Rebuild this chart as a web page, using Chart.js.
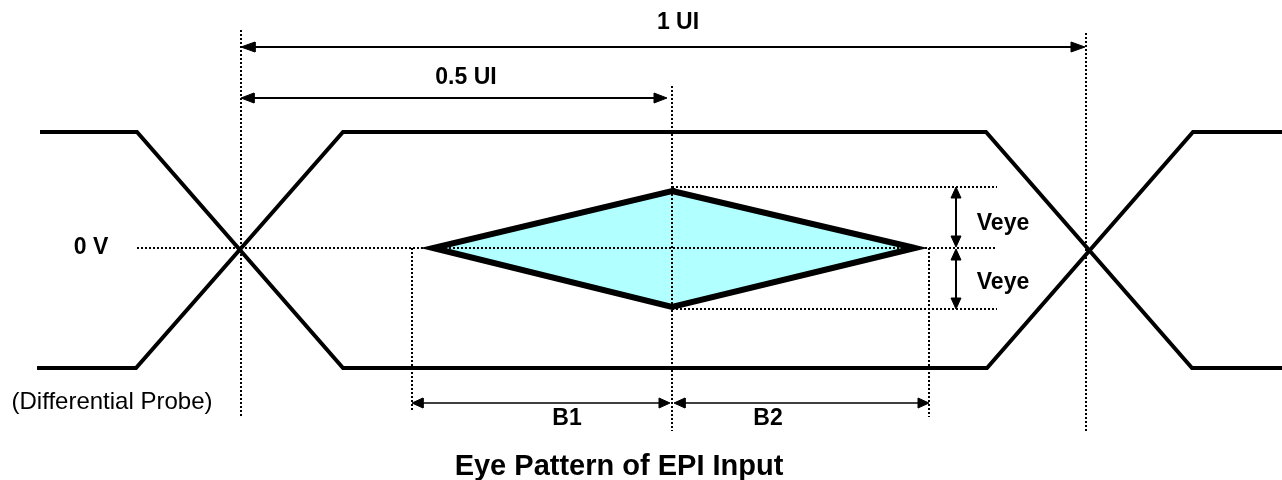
<!DOCTYPE html>
<html>
<head>
<meta charset="utf-8">
<script src="https://cdn.jsdelivr.net/npm/chart.js@4"></script>
<style>
  html, body { margin: 0; padding: 0; background: #fff; }
  #wrap { width: 1282px; height: 480px; position: relative; }
</style>
</head>
<body>
<div id="wrap"><canvas id="myChart"></canvas></div>
<script>
// diagram coordinates (x to the right, y downwards)
const waveAX = [40, 137, 343, 987, 1193, 1282];
const waveAY = [132, 132, 368, 368, 132, 132];
const waveBX = [37, 136, 343, 986, 1192, 1282];
const waveBY = [368, 368, 132, 132, 368, 368];

// eye outline, walked round once plus one side so every tip gets a mitred join
const eyeX = [672, 915, 672, 433, 672, 915];
const eyeY = [191, 248, 307, 248, 191, 248];

// dotted guides: [x1, y1, x2, y2]
const guides = [
  [241, 30, 241, 417],
  [672, 86, 672, 431],
  [1086, 33, 1086, 431],
  [412, 248, 412, 410],
  [929, 248, 929, 417],
  [137, 248, 997, 248],
  [672, 187, 997, 187],
  [672, 309, 997, 309]
];

// double arrows: [x1, y1, x2, y2, headLen, headHalf, width]
const arrows = [
  [241, 47, 1085, 47, 14, 5, 2],
  [241, 98, 667, 98, 13, 5, 2],
  [412, 403, 670, 403, 11, 5, 1.5],
  [674, 403, 929, 403, 11, 5, 1.5],
  [956, 187, 956, 247, 11, 5, 2],
  [956, 249, 956, 309, 11, 5, 2]
];

const labels = ['1 UI', '0.5 UI', '0 V', 'Veye', 'Veye', 'B1', 'B2'];
const labelX = [678, 466, 91, 1003, 1003, 567, 768];
const labelY = [23, 78, 248, 224, 283, 419, 419];

const probeText = '(Differential Probe)';
const titleText = 'Eye Pattern of EPI Input';

const pts = (xs, ys) => xs.map((x, i) => ({ x, y: ys[i] }));

const datasets = [];

datasets.push({
  data: pts(eyeX, eyeY),
  borderColor: '#000',
  borderWidth: 6,
  backgroundColor: 'rgb(178, 255, 255)',
  fill: 'shape',
  order: 4
});

[[waveAX, waveAY], [waveBX, waveBY]].forEach(([xs, ys]) => {
  datasets.push({
    data: pts(xs, ys),
    borderColor: '#000',
    borderWidth: 4,
    fill: false,
    order: 3
  });
});

guides.forEach(g => {
  datasets.push({
    data: [{ x: g[0], y: g[1] }, { x: g[2], y: g[3] }],
    borderColor: '#000',
    borderWidth: 2,
    borderDash: [2, 2],
    fill: false,
    order: 2
  });
});

function head(tx, ty, dx, dy, len, half) {
  const bx = tx - dx * len, by = ty - dy * len;
  return [
    { x: tx, y: ty },
    { x: bx - dy * half, y: by + dx * half },
    { x: bx + dy * half, y: by - dx * half },
    { x: tx, y: ty }
  ];
}

arrows.forEach(a => {
  const [x1, y1, x2, y2, len, half, w] = a;
  const L = Math.hypot(x2 - x1, y2 - y1);
  const dx = (x2 - x1) / L, dy = (y2 - y1) / L;
  datasets.push({
    data: [{ x: x1 + dx * len * 0.8, y: y1 + dy * len * 0.8 }, { x: x2 - dx * len * 0.8, y: y2 - dy * len * 0.8 }],
    borderColor: '#000',
    borderWidth: w,
    fill: false,
    order: 1
  });
  [head(x2, y2, dx, dy, len, half), head(x1, y1, -dx, -dy, len, half)].forEach(h => {
    datasets.push({
      data: h,
      borderColor: '#000',
      borderWidth: 1,
      backgroundColor: '#000',
      fill: 'shape',
      order: 0
    });
  });
});

const textPlugin = {
  id: 'diagramText',
  afterDatasetsDraw(chart) {
    const { ctx, scales: { x, y } } = chart;
    ctx.save();
    ctx.fillStyle = '#000';
    ctx.textAlign = 'center';
    ctx.textBaseline = 'middle';
    ctx.font = 'bold 23px "Liberation Sans", Arial, sans-serif';
    labels.forEach((t, i) => {
      ctx.fillText(t, x.getPixelForValue(labelX[i]), y.getPixelForValue(labelY[i]));
    });
    ctx.font = '24px "Liberation Sans", Arial, sans-serif';
    ctx.fillText(probeText, x.getPixelForValue(112), y.getPixelForValue(402));
    ctx.font = 'bold 29px "Liberation Sans", Arial, sans-serif';
    ctx.fillText(titleText, x.getPixelForValue(619), y.getPixelForValue(467));
    ctx.restore();
  }
};

var myChart = new Chart(document.getElementById('myChart'), {
  type: 'scatter',
  data: { datasets },
  options: {
    animation: false,
    responsive: true,
    maintainAspectRatio: false,
    showLine: true,
    elements: {
      point: { radius: 0, hoverRadius: 0 },
      line: { tension: 0, borderJoinStyle: 'miter' }
    },
    layout: { padding: 0 },
    plugins: {
      legend: { display: false },
      tooltip: { enabled: false }
    },
    scales: {
      x: { type: 'linear', min: 0, max: 1282, display: false },
      y: { type: 'linear', min: 0, max: 480, reverse: true, display: false }
    }
  },
  plugins: [textPlugin]
});
</script>
</body>
</html>
